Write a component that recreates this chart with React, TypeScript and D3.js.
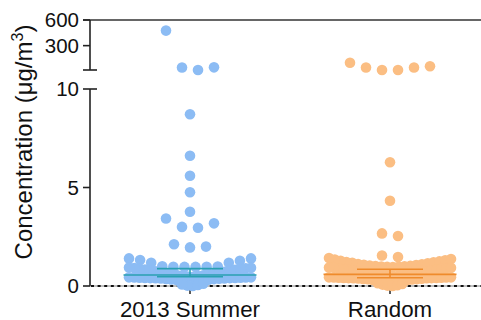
import React from "react";
import * as d3 from "d3";

const categories = ["2013 Summer", "Random"];

const summerValues = [
  476, 46, 15, 45,
  8.72, 6.61, 5.6, 4.76, 3.77, 3.43, 3.18, 3.0, 2.96, 2.12, 2.0, 1.96,
  1.4, 1.4, 1.32, 1.28, 1.18, 1.18, 1.0, 0.99, 0.98, 0.98, 0.97, 0.97,
  0.94, 0.93, 0.91, 0.9, 0.88, 0.86, 0.84, 0.82, 0.8, 0.78, 0.75, 0.72,
  0.7, 0.68, 0.65, 0.62, 0.6, 0.58, 0.56, 0.54, 0.52, 0.5, 0.48, 0.46,
  0.44, 0.44, 0.43, 0.43, 0.42, 0.42, 0.41, 0.41, 0.4, 0.4, 0.39, 0.38,
  0.38, 0.37, 0.36, 0.35, 0.33, 0.32, 0.3, 0.12, 0.08, 0.05, 0.02, 0.0,
];

const randomValues = [
  100, 44, 15, 15, 44.5, 58,
  6.28, 4.33, 2.67, 2.54, 1.55, 1.47,
  1.42, 1.37, 1.34, 1.31, 1.28, 1.25, 1.22, 1.2, 1.18, 1.15, 1.12, 1.1,
  1.08, 1.06, 1.04, 1.02, 1.01, 1.0, 0.99, 0.98, 0.97, 0.96,
  0.94, 0.93, 0.92, 0.9, 0.89, 0.87, 0.85, 0.83, 0.81, 0.79, 0.77, 0.75,
  0.72, 0.7, 0.68, 0.66, 0.64, 0.62, 0.6, 0.58, 0.56, 0.54, 0.52, 0.5, 0.48, 0.46,
  0.44, 0.44, 0.43, 0.43, 0.42, 0.42, 0.41, 0.41, 0.4, 0.4, 0.39, 0.39,
  0.38, 0.37, 0.36, 0.35, 0.34, 0.33, 0.31, 0.3, 0.14, 0.1, 0.07, 0.04, 0.02, 0.0,
];

const medians = [0.56, 0.59];
const q1s = [0.47, 0.42];
const q3s = [0.88, 0.85];

const lowTicks = [0, 5, 10];
const highTicks = [300, 600];

const dotColors = ["#8cbcf4", "#fbbe83"];
const lineColors = ["#2aa0b2", "#ef8b2c"];

const FONT = "'Liberation Sans', Arial, Helvetica, sans-serif";

const W = 481;
const H = 320;

const yLow = d3.scaleLinear().domain([0, 10]).range([286, 89]);
const yHigh = d3.scaleLinear().domain([15, 600]).range([70, 20]);
const yPos = (v: number) => (v <= 10 ? yLow(v) : yHigh(v));

const x = d3.scaleBand<string>().domain(categories).range([90, 490]).padding(0);
const cx = (c: string) => (x(c) as number) + x.bandwidth() / 2;

const binKey = (v: number) => (v > 10 ? "top" : String(Math.floor((v - 0.45) / 0.5)));

function swarm(values: number[]) {
  const groups = d3.group(values, binKey);
  const out: { v: number; dx: number }[] = [];
  for (const [, vals] of groups) {
    const sorted = [...vals].sort((a, b) => a - b);
    const n = sorted.length;
    const spacing = n > 1 ? Math.min(16, 122 / (n - 1)) : 0;
    sorted.forEach((v, i) => {
      let off: number;
      if (n % 2 === 1) {
        const k = Math.ceil(i / 2);
        off = i === 0 ? 0 : (i % 2 === 1 ? 1 : -1) * k;
      } else {
        const k = Math.floor(i / 2) + 0.5;
        off = (i % 2 === 0 ? 1 : -1) * k;
      }
      out.push({ v, dx: off * spacing });
    });
  }
  return out;
}

const seriesList = [summerValues, randomValues];

export default function App() {
  const axisColor = "#222";
  return (
    <svg
      width={W}
      height={H}
      style={{ position: "absolute", left: 0, top: 0, background: "#fff" }}
      fontFamily={FONT}
    >
      {/* top frame line */}
      <line x1={83} x2={W} y1={yHigh(600)} y2={yHigh(600)} stroke="#333" strokeWidth={1.6} />
      {/* upper y segment */}
      <line x1={90} x2={90} y1={yHigh(600)} y2={70} stroke={axisColor} strokeWidth={1.6} />
      <line x1={83} x2={97} y1={70} y2={70} stroke={axisColor} strokeWidth={1.6} />
      {highTicks.map((t) => (
        <g key={t}>
          <line x1={83} x2={90} y1={yHigh(t)} y2={yHigh(t)} stroke={axisColor} strokeWidth={1.6} />
          <text x={79} y={yHigh(t)} dy="0.35em" textAnchor="end" fontSize={20.5} fill="#111">
            {t}
          </text>
        </g>
      ))}
      {/* lower y segment */}
      <line x1={90} x2={90} y1={yLow(0)} y2={yLow(10)} stroke={axisColor} strokeWidth={1.6} />
      <line x1={90} x2={97} y1={yLow(10)} y2={yLow(10)} stroke={axisColor} strokeWidth={1.6} />
      {lowTicks.map((t) => (
        <g key={t}>
          <line x1={83} x2={90} y1={yLow(t)} y2={yLow(t)} stroke={axisColor} strokeWidth={1.6} />
          <text x={79} y={yLow(t)} dy="0.35em" textAnchor="end" fontSize={20.5} fill="#111">
            {t}
          </text>
        </g>
      ))}
      {/* x axis (dotted) */}
      <line x1={90} x2={W} y1={yLow(0)} y2={yLow(0)} stroke="#666" strokeWidth={0.8} />
      <line x1={91} x2={W} y1={yLow(0)} y2={yLow(0)} stroke="#111" strokeWidth={2} strokeDasharray="3 3.6" />
      {categories.map((c) => (
        <line key={c} x1={cx(c)} x2={cx(c)} y1={yLow(0)} y2={yLow(0) + 8} stroke={axisColor} strokeWidth={1.5} />
      ))}

      {/* dots */}
      {seriesList.map((vals, si) => (
        <g key={si}>
          {swarm(vals).map((d, i) => (
            <circle key={i} cx={cx(categories[si]) + d.dx} cy={yPos(d.v)} r={5.3} fill={dotColors[si]} />
          ))}
        </g>
      ))}

      {/* median & IQR */}
      {categories.map((c, i) => {
        const xc = cx(c);
        return (
          <g key={c} stroke={lineColors[i]} strokeWidth={1.6}>
            <line x1={xc - 66.5} x2={xc + 66.5} y1={yLow(medians[i])} y2={yLow(medians[i])} />
            <line x1={xc - 33} x2={xc + 33} y1={yLow(q1s[i])} y2={yLow(q1s[i])} />
            <line x1={xc - 33} x2={xc + 33} y1={yLow(q3s[i])} y2={yLow(q3s[i])} />
            <line x1={xc} x2={xc} y1={yLow(q1s[i])} y2={yLow(q3s[i])} />
          </g>
        );
      })}

      {/* category labels */}
      {categories.map((c) => (
        <text key={c} x={cx(c)} y={316.5} textAnchor="middle" fontSize={22.3} fill="#111">
          {c}
        </text>
      ))}

      {/* y label */}
      <text transform="translate(32,142) rotate(-90)" textAnchor="middle" fontSize={24} fill="#111">
        Concentration (μg/m<tspan dy={-9} fontSize={16}>3</tspan>
        <tspan dy={9}>)</tspan>
      </text>
    </svg>
  );
}
